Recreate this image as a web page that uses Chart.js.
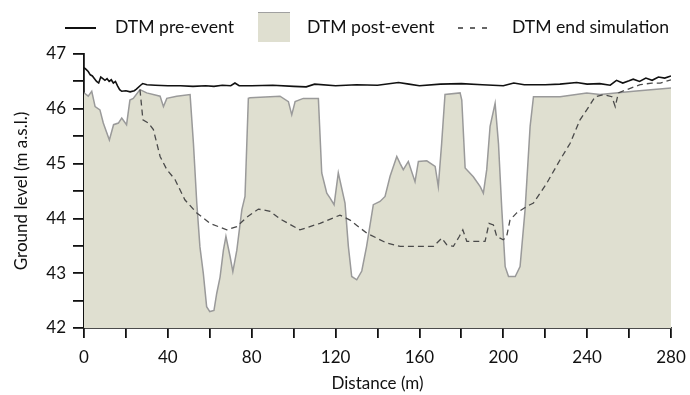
<!DOCTYPE html>
<html>
<head>
<meta charset="utf-8">
<script src="https://cdn.jsdelivr.net/npm/chart.js@4.4.1/dist/chart.umd.min.js"></script>
<style>
  html, body { margin: 0; padding: 0; background: #fff; }
  #wrap { position: relative; width: 690px; height: 395px; font-family: Lato, "Open Sans", sans-serif; }
  #profile { position: absolute; left: 0; top: 0; }
  .lg { position: absolute; font-size: 17.6px; color: #111; line-height: 20px; top: 17px; white-space: nowrap; }
  .lg-line { position: absolute; left: 65px; top: 27px; width: 31px; height: 1.6px; background: #111; }
  .lg-box { position: absolute; left: 258px; top: 12px; width: 32px; height: 29px; background: #dfdfd0; border-top: 1.5px solid #a0a0a0; }
  .lg-dash { position: absolute; left: 458px; top: 27px; width: 29px; height: 1.5px;
             background: repeating-linear-gradient(to right, #666 0 5px, transparent 5px 12px); }
</style>
</head>
<body>
<div id="wrap">
  <canvas id="profile" width="690" height="395"></canvas>
  <div class="lg-line"></div>
  <div class="lg" style="left:115px">DTM pre-event</div>
  <div class="lg-box"></div>
  <div class="lg" style="left:307px">DTM post-event</div>
  <div class="lg-dash"></div>
  <div class="lg" style="left:512px">DTM end simulation</div>
</div>
<script>
// ground profile along the section, distance in m, level in m a.s.l.
const preDist  = [0,1,2,3,4,5,6,7,8,9,10,11,12,13,14,15,16,17,18,20,22,24,25,27,28,30,34,40,46,52,58,62,66,70,72,74,80,90,100,106,110,120,130,140,150,155,160,170,180,190,200,205,210,220,227,235,240,246,251,254,257,260,262,265,268,271,274,277,280];
const preLevel = [46.75,46.72,46.68,46.62,46.6,46.55,46.5,46.47,46.58,46.55,46.52,46.55,46.5,46.53,46.47,46.5,46.42,46.35,46.32,46.33,46.31,46.33,46.36,46.43,46.46,46.44,46.43,46.42,46.42,46.41,46.42,46.41,46.43,46.42,46.47,46.42,46.42,46.43,46.41,46.4,46.45,46.42,46.44,46.43,46.48,46.45,46.42,46.45,46.46,46.44,46.42,46.47,46.44,46.44,46.45,46.48,46.45,46.46,46.43,46.52,46.47,46.51,46.54,46.5,46.56,46.52,46.58,46.56,46.6];

const postDist  = [0,2,3.7,5.3,7.6,9.2,12.1,14.1,16.4,18,20.3,21.9,23.5,26.7,29.9,36.3,37.9,39.5,44.2,50.6,52.2,53.8,55.3,56.9,58.5,60,62,63.3,64.9,66.5,67.7,69.7,71,72.9,75.3,76.8,78.4,79.2,93.5,97.5,99.1,100.7,104.6,111.8,113.4,115.8,117.4,119.3,121.3,124.5,126.1,127.7,130.1,132.5,134.8,138,141.2,143.6,146,149.2,150.8,152.3,154.7,157.9,159.5,163.5,167.5,169,170.6,172.2,179.4,180.2,181.8,185.7,189,190.5,192.1,193.7,196.1,197.7,199.3,200.9,202.5,205.7,208,210.4,212.8,214.4,227.1,239.8,246.2,262.1,280];
const postLevel = [46.29,46.23,46.32,46.04,45.98,45.74,45.43,45.71,45.74,45.83,45.71,46.16,46.19,46.35,46.29,46.23,46.04,46.19,46.23,46.26,45.37,44.28,43.48,43.0,42.39,42.3,42.32,42.63,42.93,43.42,43.67,43.3,43.03,43.42,44.16,44.4,46.19,46.2,46.23,46.13,45.89,46.13,46.19,46.19,44.83,44.46,44.37,44.25,44.83,44.28,43.49,42.94,42.88,43.04,43.49,44.25,44.31,44.4,44.77,45.13,45.0,44.89,45.04,44.67,45.04,45.05,44.95,44.58,45.37,46.26,46.29,46.16,44.92,44.76,44.58,44.46,44.89,45.68,46.1,45.37,44.16,43.12,42.94,42.94,43.12,44.16,45.68,46.22,46.22,46.29,46.26,46.32,46.38];

const simDist  = [26.7,28.1,30.7,33.1,36.3,39.5,43.4,48.1,53.8,60.1,68.1,72.9,77.6,83.2,88.8,93.5,103,112.6,122.1,126.9,134.9,144.4,150.8,166.7,170.7,173,176.2,179,180.7,182.6,185.8,191.3,193.2,195.3,196.9,200,201.6,203.2,206.4,211.2,214.4,220.7,227.1,231.9,236.6,239.8,243.8,247.8,251.8,253.4,254.9,258.9,265.3,270.9,274.9,280];
const simLevel = [46.35,45.8,45.74,45.62,45.13,44.89,44.71,44.34,44.1,43.91,43.79,43.85,44.02,44.17,44.13,43.99,43.79,43.91,44.06,43.97,43.73,43.55,43.49,43.49,43.64,43.52,43.49,43.67,43.79,43.58,43.58,43.58,43.91,43.88,43.67,43.61,43.67,43.97,44.1,44.22,44.28,44.64,45.07,45.37,45.8,45.98,46.22,46.26,46.22,46.04,46.29,46.35,46.44,46.47,46.47,46.53];

const xMin = 0, xMax = 280, xStep = 20, xLabelEvery = 40;
const yMin = 42, yMax = 47, yStep = 0.5;

function toPoints(xs, ys){
  return xs.map((x, i) => ({ x: x, y: ys[i] }));
}

const fontFamily = 'Lato, "Open Sans", sans-serif';

const config = {
  type: 'line',
  data: {
    datasets: [
      {
        label: 'DTM pre-event',
        data: toPoints(preDist, preLevel),
        borderColor: '#111',
        borderWidth: 1.6,
        pointRadius: 0,
        tension: 0,
        fill: false,
        order: 0
      },
      {
        label: 'DTM end simulation',
        data: toPoints(simDist, simLevel),
        borderColor: '#4a4a4a',
        borderWidth: 1.3,
        borderDash: [6, 4],
        pointRadius: 0,
        tension: 0,
        fill: false,
        order: 1
      },
      {
        label: 'DTM post-event',
        data: toPoints(postDist, postLevel),
        borderColor: '#9a9a9a',
        backgroundColor: '#dfdfd0',
        borderWidth: 1.5,
        pointRadius: 0,
        tension: 0,
        fill: 'start',
        order: 2
      }
    ]
  },
  options: {
    responsive: false,
    animation: false,
    layout: { padding: { top: 54, right: 0, left: 0, bottom: 0 } },
    plugins: {
      legend: { display: false },
      tooltip: { enabled: false }
    },
    scales: {
      x: {
        type: 'linear',
        min: xMin,
        max: xMax,
        afterFit: (s) => { s.height = 67; s.paddingRight = 19; },
        border: { color: '#111', width: 1.8 },
        grid: { drawOnChartArea: false, tickLength: 10, color: '#111', lineWidth: 1.8 },
        ticks: {
          stepSize: xStep,
          autoSkip: false,
          maxRotation: 0,
          color: '#111',
          padding: 9,
          font: { family: fontFamily, size: 17 },
          callback: (v) => (v % xLabelEvery === 0 ? v : '')
        },
        title: {
          display: true,
          text: 'Distance (m)',
          color: '#111',
          font: { family: fontFamily, size: 17 },
          padding: { top: 0, bottom: 1 }
        }
      },
      y: {
        min: yMin,
        max: yMax,
        afterFit: (s) => { s.width = 84; },
        border: { color: '#111', width: 1.8 },
        grid: { drawOnChartArea: false, tickLength: 11, color: '#111', lineWidth: 1.8 },
        ticks: {
          stepSize: yStep,
          autoSkip: false,
          color: '#111',
          padding: 7,
          font: { family: fontFamily, size: 17 },
          callback: (v) => (Number.isInteger(v) ? v : '')
        },
        title: {
          display: true,
          text: 'Ground level (m a.s.l.)',
          color: '#111',
          font: { family: fontFamily, size: 17 },
          padding: { top: 11, bottom: 0 }
        }
      }
    }
  }
};

new Chart(document.getElementById('profile'), config);
</script>
</body>
</html>
